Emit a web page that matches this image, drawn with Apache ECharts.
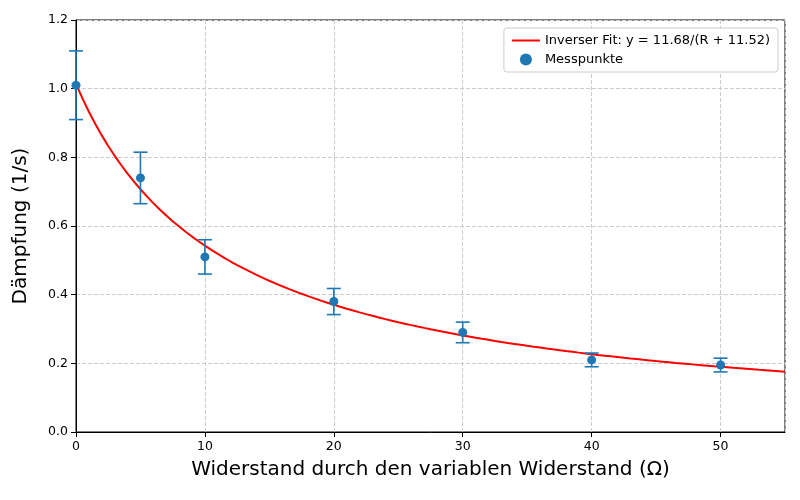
<!DOCTYPE html>
<html><head><meta charset="utf-8">
<script src="https://cdn.jsdelivr.net/npm/echarts@6/dist/echarts.min.js"></script>
<style>html,body{margin:0;padding:0;background:#fff}#c{width:800px;height:500px}</style>
</head><body><div id="c"></div>
<script>
const xVals = [0, 5, 10, 20, 30, 40, 50];
const yVals = [1.01, 0.74, 0.51, 0.38, 0.29, 0.21, 0.195];
const yErr = [0.10, 0.075, 0.05, 0.038, 0.03, 0.02, 0.02];
const fitA = 11.68, fitB = 11.52;
const fitX = [];
for (let i = 0; i <= 110; i++) fitX.push(i * 0.5);
const fitData = fitX.map(x => [x, fitA / (x + fitB)]);
const pts = xVals.map((x, i) => [x, yVals[i]]);
const errData = xVals.map((x, i) => [x, yVals[i] - yErr[i], yVals[i] + yErr[i]]);
const col = '#1f77b4';
const chart = echarts.init(document.getElementById('c'));
chart.setOption({
  animation: false,
  grid: {left: 76, right: 15, top: 20, bottom: 68, show: true, borderColor: '#000', borderWidth: 1},
  xAxis: {type: 'value', min: 0, max: 55, interval: 10,
    name: 'Widerstand durch den variablen Widerstand (Ω)', nameLocation: 'middle', nameGap: 28,
    nameTextStyle: {fontSize: 20, color: '#000', fontFamily: 'DejaVu Sans'},
    axisLine: {lineStyle: {color: '#000'}}, axisTick: {lineStyle: {color: '#000'}},
    axisLabel: {color: '#000', fontSize: 12.5, fontFamily: 'DejaVu Sans', showMaxLabel: false},
    splitLine: {show: true, lineStyle: {type: 'dashed', color: '#ccc'}}},
  yAxis: {type: 'value', min: 0, max: 1.2, interval: 0.2,
    name: 'Dämpfung (1/s)', nameLocation: 'middle', nameGap: 45,
    nameTextStyle: {fontSize: 20, color: '#000', fontFamily: 'DejaVu Sans'},
    axisLine: {show: true, lineStyle: {color: '#000'}}, axisTick: {show: true, lineStyle: {color: '#000'}},
    axisLabel: {color: '#000', fontSize: 12.5, fontFamily: 'DejaVu Sans', formatter: v => v.toFixed(1)},
    splitLine: {show: true, lineStyle: {type: 'dashed', color: '#ccc'}}},
  legend: {right: 22, top: 28, orient: 'vertical', backgroundColor: '#fff', borderColor: '#ccc', borderWidth: 1,
    borderRadius: 3, padding: [6, 8], itemGap: 6, itemWidth: 28, itemHeight: 12,
    textStyle: {fontSize: 13, color: '#000', fontFamily: 'DejaVu Sans'},
    data: [{name: 'Inverser Fit: y = 11.68/(R + 11.52)', icon: 'path://M0,5L28,5L28,7L0,7Z'},
           {name: 'Messpunkte', icon: 'circle'}]},
  series: [
    {name: 'Inverser Fit: y = 11.68/(R + 11.52)', type: 'line', data: fitData, showSymbol: false,
      lineStyle: {color: 'red', width: 2}, itemStyle: {color: 'red'}, z: 2},
    {name: 'Messpunkte', type: 'custom', data: errData, z: 3, clip: false,
      itemStyle: {color: col},
      renderItem: (p, api) => {
        const lo = api.coord([api.value(0), api.value(1)]);
        const hi = api.coord([api.value(0), api.value(2)]);
        const s = {stroke: col, lineWidth: 1.6};
        return {type: 'group', children: [
          {type: 'line', shape: {x1: lo[0], y1: lo[1], x2: hi[0], y2: hi[1]}, style: s},
          {type: 'line', shape: {x1: lo[0]-7, y1: lo[1], x2: lo[0]+7, y2: lo[1]}, style: s},
          {type: 'line', shape: {x1: hi[0]-7, y1: hi[1], x2: hi[0]+7, y2: hi[1]}, style: s}
        ]};
      }},
    {name: 'Messpunkte', type: 'scatter', data: pts, symbolSize: 9, itemStyle: {color: col, opacity: 1}, z: 4}
  ]
});
</script></body></html>
